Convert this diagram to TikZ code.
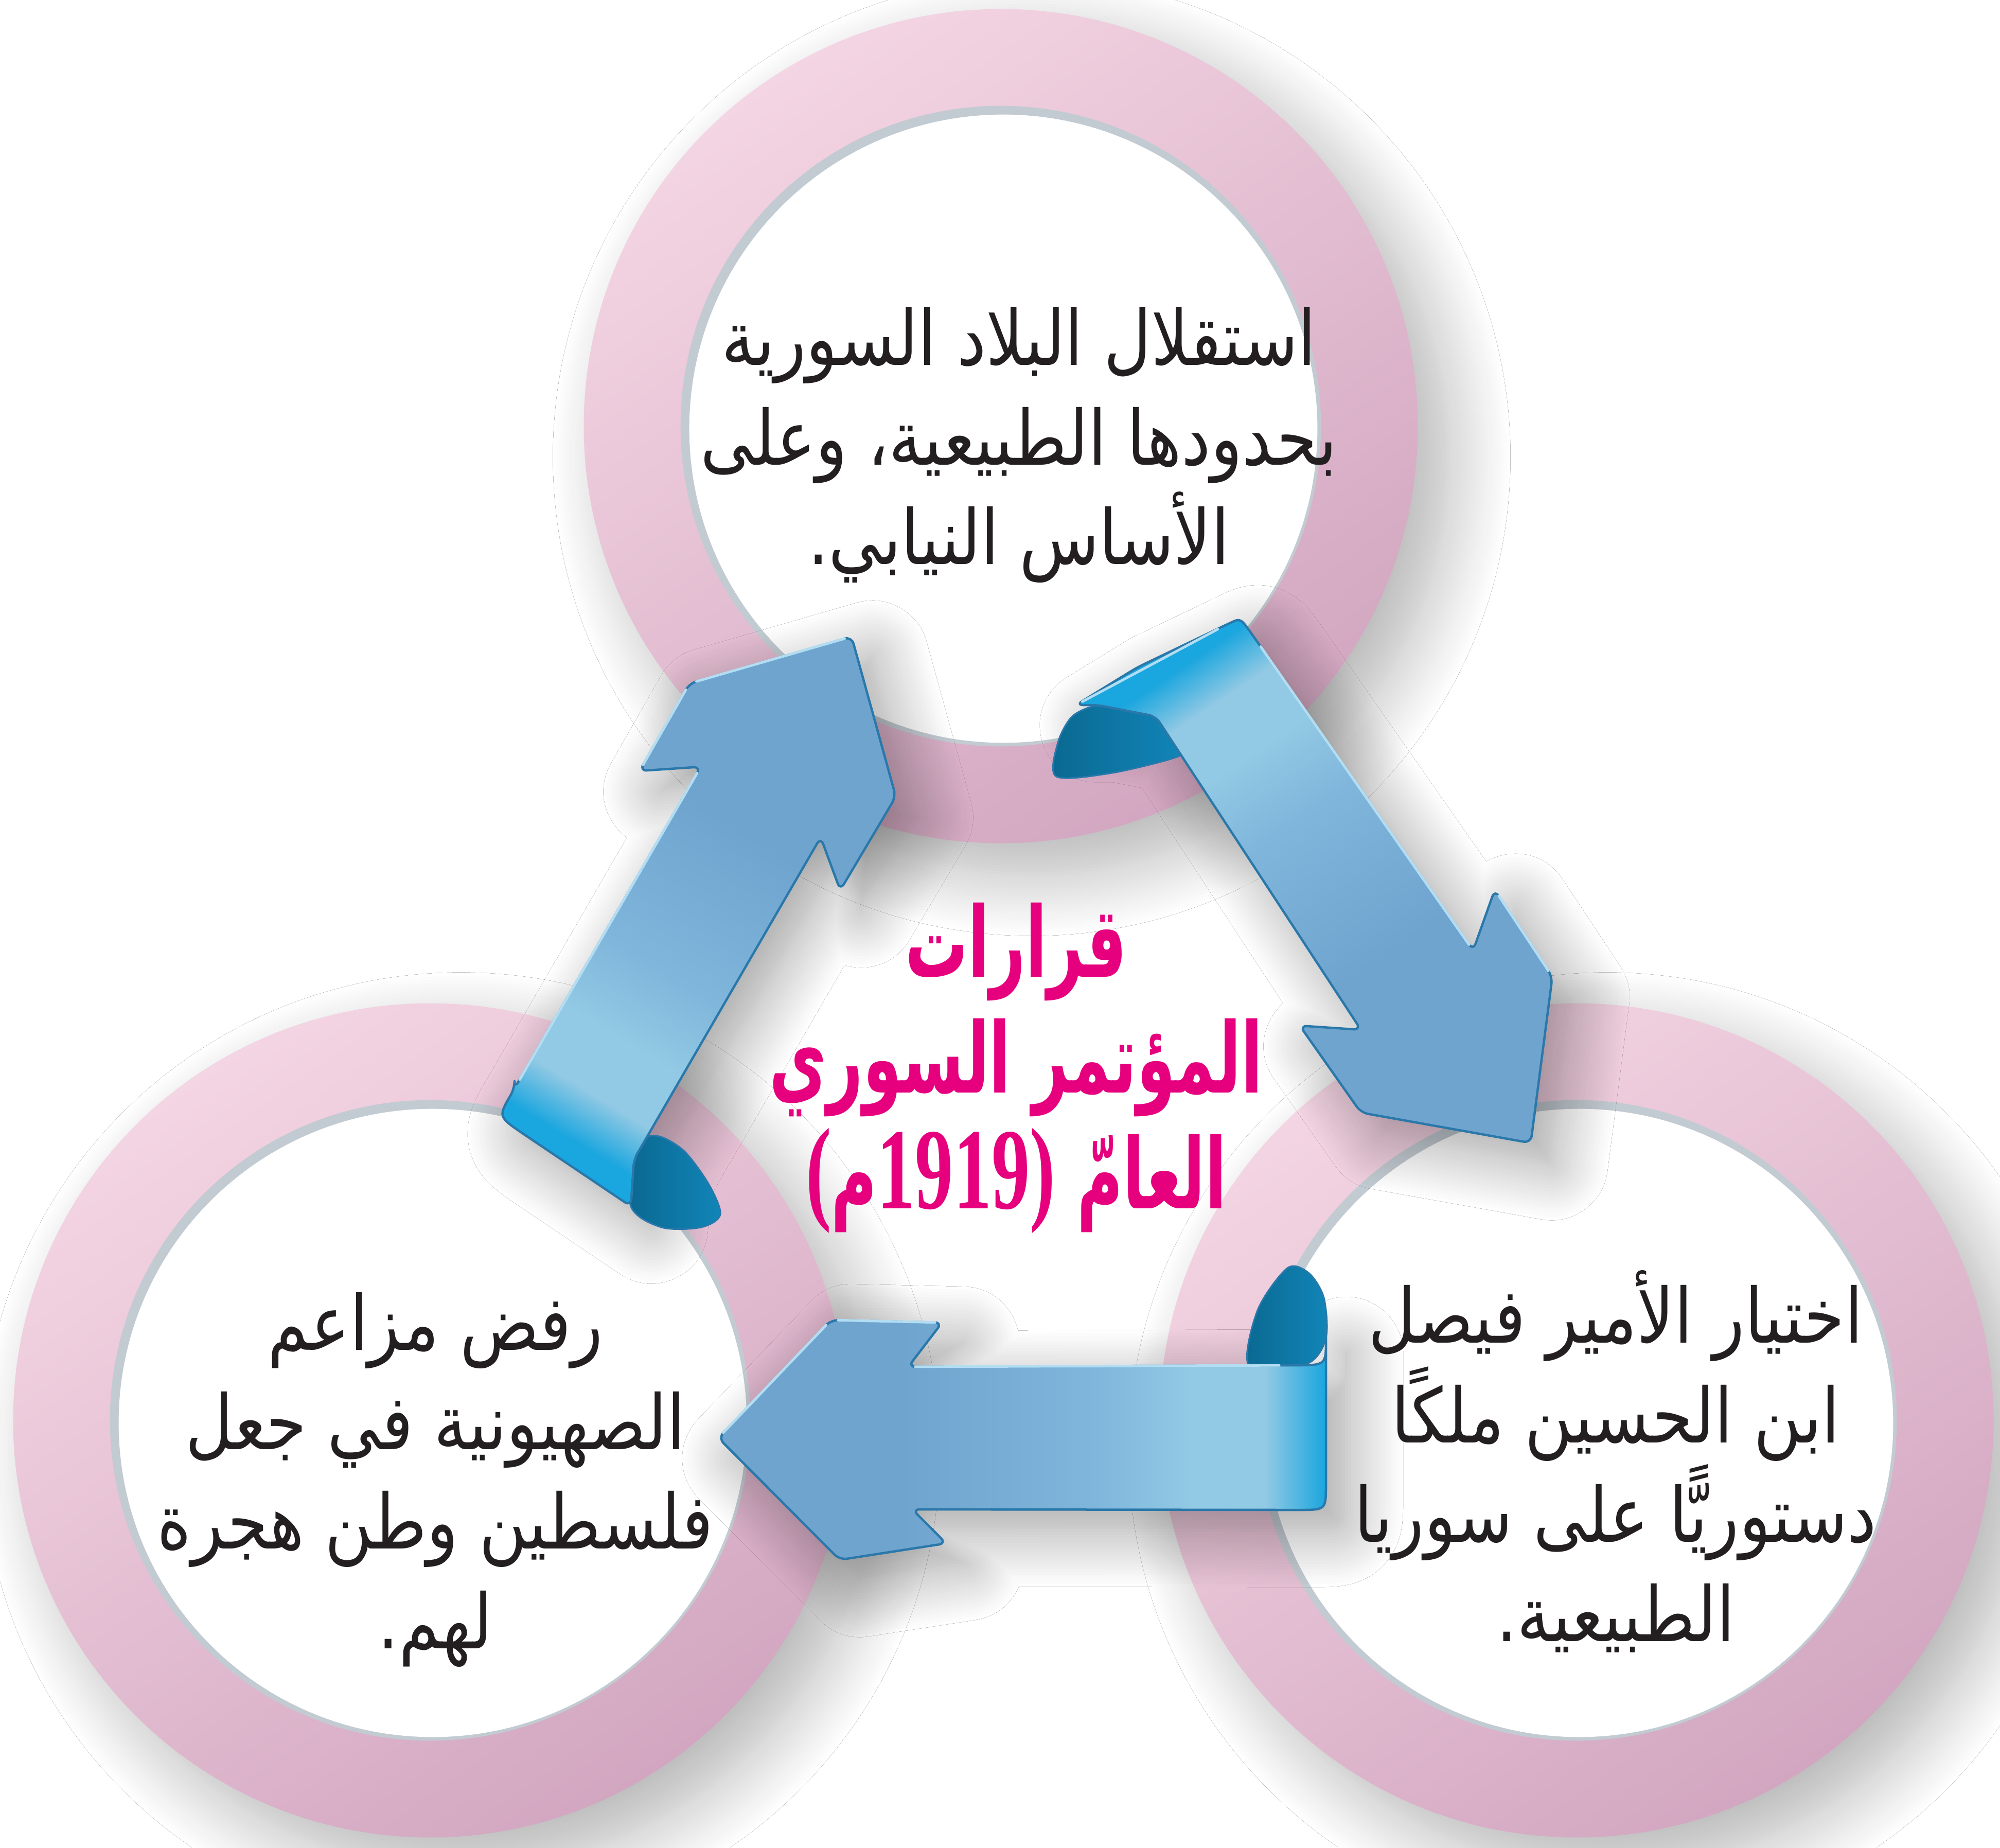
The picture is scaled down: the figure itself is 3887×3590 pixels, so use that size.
\documentclass[tikz,border=0pt]{standalone}
\usepackage{fontspec}
\usetikzlibrary{shadows.blur}
\TeXXeTstate=1
\newfontfamily\arabicfont[Script=Arabic, FakeStretch=0.86]{DejaVu Sans}
\newfontfamily\arabictitle[Script=Arabic, FakeStretch=0.64]{DejaVu Sans Bold}
\newfontfamily\numfont[FakeStretch=0.66]{Liberation Serif Bold}
\definecolor{ringlight}{HTML}{F4D5E3}
\definecolor{ringdark}{HTML}{D2A6C0}
\definecolor{ringgrey}{HTML}{C3CBD2}
\definecolor{headblue}{HTML}{6FA4CF}
\definecolor{midblue}{HTML}{80B6DB}
\definecolor{lightblue}{HTML}{92C9E4}
\definecolor{cyanblue}{HTML}{1AA6DE}
\definecolor{curldark}{HTML}{0A6890}
\definecolor{curlmid}{HTML}{1185B8}
\definecolor{edgeblue}{HTML}{2A78AA}
\definecolor{edgelight}{HTML}{B2DDF2}
\definecolor{magentatext}{HTML}{E6007E}
\definecolor{bodytext}{HTML}{231F20}
\pgfdeclareverticalshading{ribbonshade}{100bp}{color(0bp)=(headblue); color(40bp)=(headblue); color(56bp)=(midblue); color(64bp)=(lightblue); color(70bp)=(lightblue); color(75bp)=(cyanblue); color(100bp)=(cyanblue)}
\newcommand\uparrowpath{(1000,2115) -- (1362,1490) -- (1243,1498) -- (1340,1328) -- (1655,1237) -- (1741,1548) -- (1633,1730) -- (1595,1627) -- (1232,2253) -- (1226,2344) -- (1030,2212) .. controls (968,2170) .. (1000,2115) -- cycle}
\newcommand\rightarrowpath{(2091,1370) -- (2210,1297) -- (2379,1216) .. controls (2411,1201) .. (2442,1245) -- (2863,1847) -- (2905,1729) -- (3017,1898) -- (2975,2221) -- (2645,2162) -- (2526,1993) -- (2645,2001) -- (2246,1392) -- (2133,1370) -- cycle}
\newcommand\bottomarrowpath{(1396,2794) -- (1615,2565) -- (1831,2570) -- (1765,2656) -- (2500,2653) .. controls (2577,2653) .. (2577,2590) -- (2577,2870) .. controls (2577,2934) .. (2510,2934) -- (1773,2933) -- (1839,2999) -- (1632,3031) -- cycle}
\tikzset{
  ringshadow/.style={blur shadow={shadow xshift=0.6cm, shadow yshift=-0.6cm, shadow blur radius=1.2cm, shadow blur steps=20, shadow opacity=30}},
  arrowshadow/.style={blur shadow={shadow xshift=0.4cm, shadow yshift=-0.4cm, shadow blur radius=1.1cm, shadow blur steps=20, shadow opacity=38}},
  ribbonface/.style={shading=ribbonshade, draw=edgeblue, line width=0.045cm, rounded corners=0.14cm, line join=round},
  curlface/.style={draw=edgeblue, line width=0.03cm},
  hilite/.style={draw=edgelight, line width=0.05cm, line cap=round, shorten <=0.14cm, shorten >=0.14cm},
  bodytxt/.style={align=center, text=bodytext, font=\arabicfont\fontsize{42}{55}\selectfont, inner sep=0pt},
  titletxt/.style={align=center, text=magentatext, font=\arabictitle\fontsize{54}{64}\selectfont, inner sep=0pt},
}
\begin{document}
\begin{tikzpicture}[x=0.01cm, y=-0.01cm]
\fill[white] (0,0) rectangle (3887,3590);
\useasboundingbox (0,0) rectangle (3887,3590);
\coordinate (ctop) at (1945,828);
\coordinate (cbl) at (836,2760);
\coordinate (cbr) at (3064,2760);
\foreach \n in {ctop,cbl,cbr}{
  \path[ringshadow, top color=ringlight, bottom color=ringdark, shading angle=35] (\n) circle[radius=8.1cm];
  \fill[ringgrey] (\n) circle[radius=6.22cm];
  \fill[white] ([shift={(5,5)}]\n) circle[radius=6.1cm];
}
% circle texts
\node[bodytxt] (ttop) at (1980,865) {\beginR استقلال البلاد السورية\endR\\\beginR بحدودها الطبيعية، وعلى\endR\\\beginR الأساس النيابي.\endR};
\node[bodytxt] (tbl) at (846,2875) {\beginR رفض مزاعم\endR\\\beginR الصهيونية في جعل\endR\\\beginR فلسطين وطن هجرة\endR\\\beginR لهم.\endR};
\node[bodytxt] (tbr) at (3140,2840) {\beginR اختيار الأمير فيصل\endR\\\beginR ابن الحسين ملكًا\endR\\\beginR دستوريًّا على سوريا\endR\\\beginR الطبيعية.\endR};
% arrow shadows
\path[arrowshadow] \uparrowpath;
\path[arrowshadow] \rightarrowpath;
\path[arrowshadow] \bottomarrowpath;
% curls (underside of the rolled ends)
\shade[curlface, left color=curldark, right color=curlmid] plot[smooth cycle] coordinates {(1229,2228) (1275,2207) (1329,2236) (1378,2302) (1400,2360) (1362,2385) (1286,2385) (1226,2344)};
\shade[curlface, left color=curldark, right color=curlmid] plot[smooth cycle] coordinates {(2246,1392) (2289,1458) (2281,1473) (2161,1502) (2053,1509) (2056,1443) (2084,1392) (2133,1370) (2200,1368)};
\shade[curlface, left color=curldark, right color=curlmid] plot[smooth cycle] coordinates {(2428,2655) (2444,2546) (2502,2464) (2544,2474) (2573,2522) (2577,2600) (2540,2650)};
% ribbon faces
\shadedraw[ribbonface, shading angle=149] \uparrowpath;
\shadedraw[ribbonface, shading angle=34] \rightarrowpath;
\shadedraw[ribbonface, shading angle=-90] \bottomarrowpath;
% light bevel edges
\draw[hilite] (1003,2110) -- (1362,1490);
\draw[hilite] (1243,1498) -- (1340,1328);
\draw[hilite] (1340,1328) -- (1655,1237);
\draw[hilite] (2091,1370) -- (2379,1216);
\draw[hilite] (2442,1245) -- (2863,1847);
\draw[hilite] (2905,1729) -- (3017,1898);
\draw[hilite] (1396,2794) -- (1615,2565);
\draw[hilite] (1615,2565) -- (1831,2570);
\draw[hilite] (1765,2656) -- (2500,2653);
% centre title
\node[titletxt] (tcenter) at (1975,2075) {قرارات\\\beginR المؤتمر السوري\endR\\{\numfont\fontsize{64}{64}\selectfont(}م{\numfont\fontsize{64}{64}\selectfont1919)} العامّ};
\end{tikzpicture}
\end{document}
